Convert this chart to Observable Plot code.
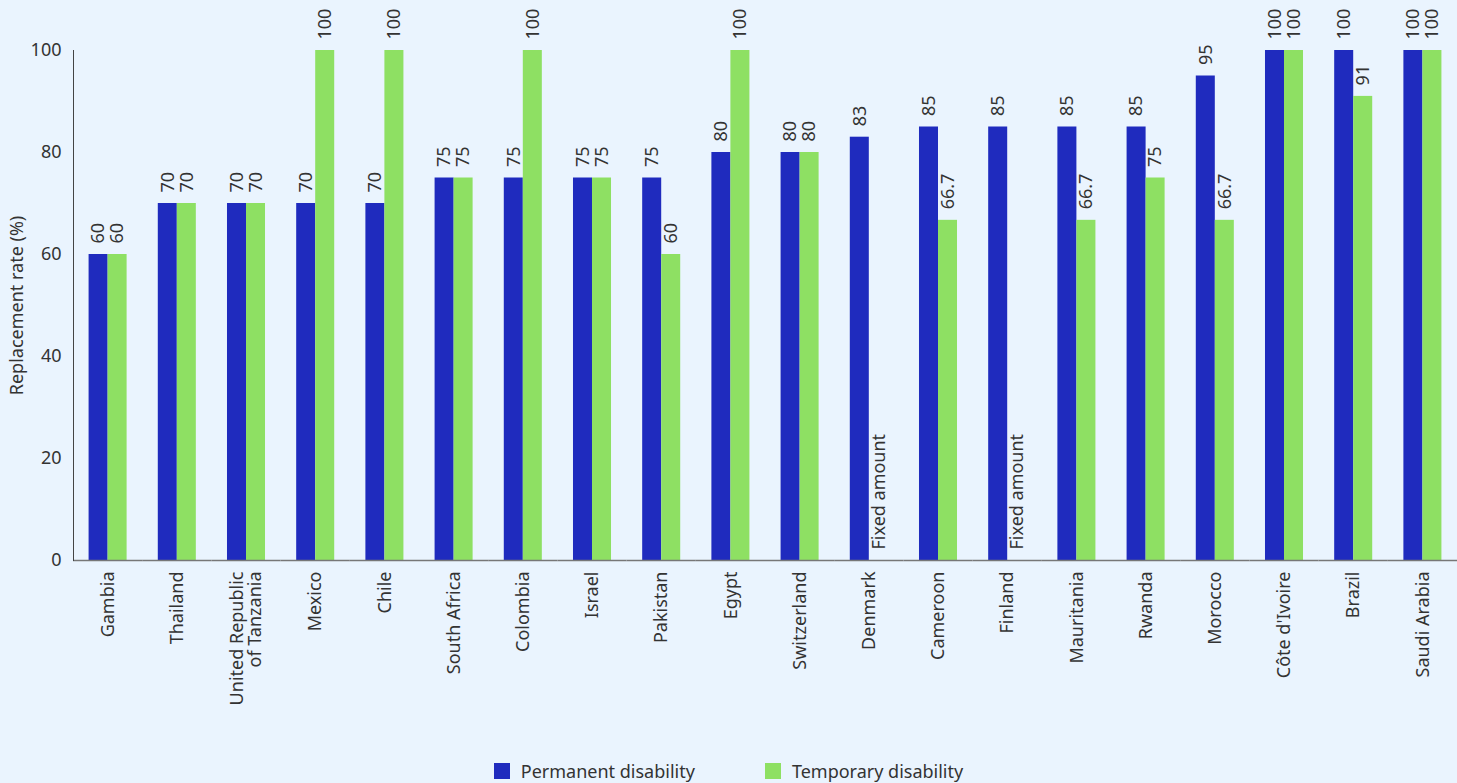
<!DOCTYPE html>
<html><head><meta charset="utf-8">
<script src="https://cdn.jsdelivr.net/npm/d3@7"></script>
<script src="https://cdn.jsdelivr.net/npm/@observablehq/plot@0.6"></script>
<style>
html,body{margin:0;padding:0;background:#eaf4fe;overflow:hidden;}
#chart{width:1457px;height:783px;font-family:"Noto Sans",sans-serif;}
.legend{display:flex;justify-content:center;gap:70px;font-size:18px;color:#333;margin-top:19px;padding-left:0;}
.legend .item{display:flex;align-items:center;}
.legend .sw{width:16px;height:16px;margin-right:11px;display:inline-block;}
</style>
</head><body>
<div id="chart"></div>
<script>
const countries = ["Gambia","Thailand","United Republic\nof Tanzania","Mexico","Chile","South Africa","Colombia","Israel","Pakistan","Egypt","Switzerland","Denmark","Cameroon","Finland","Mauritania","Rwanda","Morocco","Côte d'Ivoire","Brazil","Saudi Arabia"];
const series = ["Permanent disability","Temporary disability"];
const permanent = [60,70,70,70,70,75,75,75,75,80,80,83,85,85,85,85,95,100,100,100];
const temporary = [60,70,70,100,100,75,100,75,60,100,80,null,66.7,null,66.7,75,66.7,100,91,100];
const fixedLabel = "Fixed amount";
const yTicks = [0,20,40,60,80,100];
const colors = ["#1f2bbe","#8ee063"];

const rows = [];
countries.forEach((c,i)=>{
  [permanent[i], temporary[i]].forEach((v,j)=>{
    rows.push({country:c, series:series[j], value:v, label: v==null ? fixedLabel : String(v), ypos: v ?? 0});
  });
});

const chart = Plot.plot({
  width:1457, height:740,
  marginLeft:73, marginRight:0, marginTop:50, marginBottom:180,
  style:{background:"transparent", fontFamily:"'Noto Sans', sans-serif", fontSize:"18px", color:"#333", overflow:"visible"},
  fx:{domain:countries, padding:0, round:false, label:null},
  x:{domain:series, paddingInner:0, paddingOuter:0.82, round:false, axis:null},
  y:{domain:[0,100]},
  color:{domain:series, range:colors},
  marks:[
    Plot.barY(rows, {fx:"country", x:"series", y:"value", fill:"series"}),
    Plot.text(rows, {fx:"country", x:"series", y:"ypos", text:"label", rotate:-90, textAnchor:"start", lineAnchor:"middle", dy:-11, fill:"#333", fontSize:18}),
    Plot.ruleY([0], {stroke:"#777", strokeWidth:1.3}),
    Plot.axisY({ticks:yTicks, tickSize:0, tickPadding:12, label:"Replacement rate (%)", labelArrow:"none", labelAnchor:"center", labelOffset:63, fill:"#333", fontSize:18}),
    Plot.axisFx({anchor:"bottom", tickRotate:-90, tickSize:0, tickPadding:11, label:null, fill:"#333", fontSize:18}),
    Plot.frame({anchor:"left", facetAnchor:"left", stroke:"#444"})
  ]
});
const root = document.getElementById("chart");
root.appendChild(chart);
const lg = document.createElement("div");
lg.className = "legend";
series.forEach((s,i)=>{
  const it = document.createElement("div"); it.className="item";
  const sw = document.createElement("span"); sw.className="sw"; sw.style.background=colors[i];
  it.appendChild(sw); it.appendChild(document.createTextNode(s));
  lg.appendChild(it);
});
root.appendChild(lg);
</script>
</body></html>
